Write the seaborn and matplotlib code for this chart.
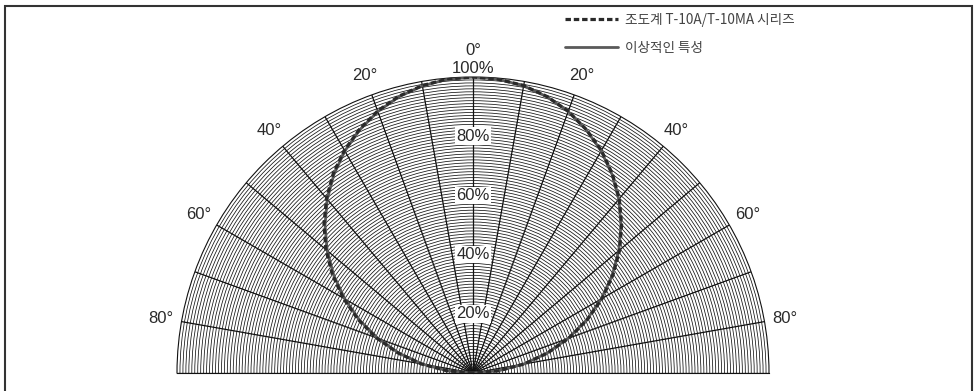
import numpy as np
import pandas as pd
import matplotlib
matplotlib.use("Agg")
import matplotlib.pyplot as plt
from matplotlib.patches import Rectangle
from matplotlib.lines import Line2D
import seaborn as sns

# ---- data ----
angles_deg = [-90, -85, -80, -75, -70, -65, -60, -55, -50, -45, -40, -35, -30, -25, -20, -15, -10, -5,
              0, 5, 10, 15, 20, 25, 30, 35, 40, 45, 50, 55, 60, 65, 70, 75, 80, 85, 90]
ideal_pct = [0, 8.7, 17.4, 25.9, 34.2, 42.3, 50.0, 57.4, 64.3, 70.7, 76.6, 81.9, 86.6, 90.6, 94.0, 96.6, 98.5, 99.6,
             100, 99.6, 98.5, 96.6, 94.0, 90.6, 86.6, 81.9, 76.6, 70.7, 64.3, 57.4, 50.0, 42.3, 34.2, 25.9, 17.4, 8.7, 0]
measured_pct = [0, 8.9, 17.8, 26.3, 34.8, 42.9, 50.6, 58.0, 64.9, 71.2, 77.0, 82.3, 86.9, 90.8, 94.2, 96.8, 98.6, 99.7,
                100, 99.6, 98.6, 96.7, 94.1, 90.7, 86.8, 82.1, 76.9, 71.0, 64.7, 57.7, 50.4, 42.6, 34.5, 26.1, 17.6, 8.8, 0]
series_names = ["조도계 T-10A/T-10MA 시리즈", "이상적인 특성"]
angle_labels = [0, 20, 40, 60, 80]
pct_labels = [20, 40, 60, 80]

sns.set_style("white")
plt.rcParams["font.family"] = ["Liberation Sans", "DejaVu Sans"]

W, H = 978, 391
fig = plt.figure(figsize=(W / 100, H / 100), dpi=100)

cx, cy, R = 473, 373, 296
# the half-disc wedge is fitted at half the axes box, centred in it
mid_y = cy - R / 2
ax = fig.add_axes([(cx - 2 * R) / W, (H - (mid_y + R)) / H, 4 * R / W, 2 * R / H], projection="polar")
ax.set_theta_zero_location("N")
ax.set_theta_direction(-1)
ax.set_thetamin(-90)
ax.set_thetamax(90)
ax.set_ylim(0, 100)

ax.set_thetagrids(np.arange(-90, 91, 10), labels=[""] * 19)
ax.set_rgrids(np.arange(1, 100, 1), labels=[""] * 99)
ax.xaxis.grid(True, color="#111111", lw=0.9)
ax.yaxis.grid(True, color="#111111", lw=0.55)
ax.tick_params(axis="both", length=0)
for name, sp in ax.spines.items():
    sp.set_color("#111111")
    sp.set_linewidth(0.8)
ax.set_facecolor("white")

df_ideal = pd.DataFrame({"theta": np.deg2rad(angles_deg), "r": ideal_pct})
df_meas = pd.DataFrame({"theta": np.deg2rad(angles_deg), "r": measured_pct})

sns.lineplot(data=df_ideal, x="theta", y="r", ax=ax, sort=False, color="#5a5a5a", lw=2.0,
             label=series_names[1], zorder=5)
sns.lineplot(data=df_meas, x="theta", y="r", ax=ax, sort=False, color="#2a2a2a", lw=2.3,
             dashes=(1.7, 0.9), label=series_names[0], zorder=6)
ax.set_xlabel("")
ax.set_ylabel("")
ax.legend_.remove()

# angle labels
for a in angle_labels:
    for s in ([1] if a == 0 else [-1, 1]):
        r = 109 if a == 0 else 107
        ax.text(np.deg2rad(s * a), r, f"{a}°", ha="center", va="center", fontsize=12,
                color="#2a2a2a", clip_on=False)
ax.text(0, 103, "100%", ha="center", va="center", fontsize=12, color="#2a2a2a", clip_on=False, zorder=10)
for p in pct_labels:
    ax.text(0, p, f"{p}%", ha="center", va="center", fontsize=12, color="#2a2a2a", zorder=10,
            bbox=dict(boxstyle="square,pad=0.08", fc="white", ec="none"))

# legend
handles = [Line2D([], [], color="#2a2a2a", lw=2.3, dashes=(1.7, 0.9)),
           Line2D([], [], color="#5a5a5a", lw=2.0)]
fig.legend(handles, series_names, loc="upper left", bbox_to_anchor=(558 / W, 1 - 6 / H),
           frameon=False, borderpad=0, handlelength=3.9, handletextpad=0.55, labelspacing=1.05,
           prop={"family": ["Noto Sans CJK KR", "DejaVu Sans"], "size": 9.8}, labelcolor="#444444")

# outer frame
fig.add_artist(Rectangle((5 / W, -0.1), (972 - 5) / W, 1.1 - 6 / H, transform=fig.transFigure,
                         fill=False, ec="#333333", lw=1.5))

fig.savefig("out.png", dpi=100)
